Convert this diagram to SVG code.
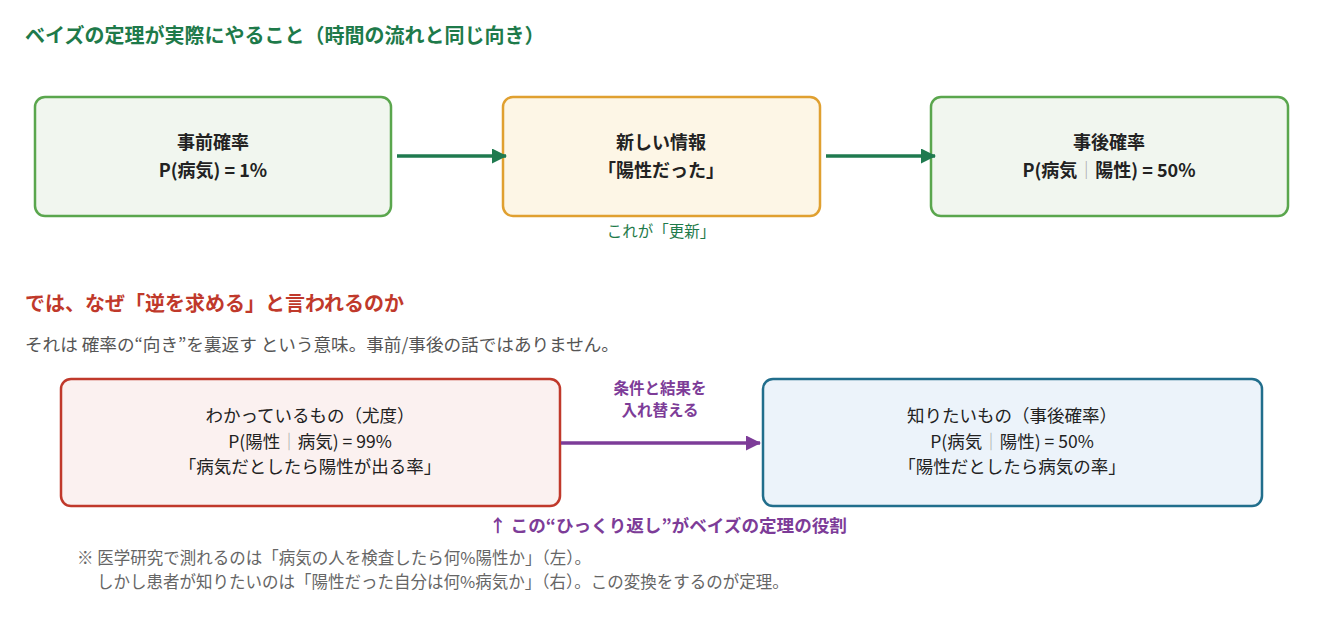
<svg xmlns="http://www.w3.org/2000/svg" width="1322" height="632" viewBox="0 0 1322 632">
<style>
text{font-family:"Noto Sans CJK JP","Noto Sans",sans-serif}
.h{font-size:20px;font-weight:700}
.b{font-size:18px;font-weight:700;fill:#222;text-anchor:middle}
.r{font-size:17.5px;fill:#222;text-anchor:middle}
.sep{fill:#aaa;font-weight:400}
.g{font-size:16.5px;fill:#666}
.p{fill:#7d3c98;font-weight:700;text-anchor:middle}
</style>
<defs>
<marker id="ag" markerWidth="15" markerHeight="15" refX="14" refY="7.5" orient="auto" markerUnits="userSpaceOnUse" viewBox="0 0 15 15"><path d="M0,0 L15,7.5 L0,15z" fill="#1f7a4f"/></marker>
<marker id="ap" markerWidth="15" markerHeight="15" refX="14" refY="7.5" orient="auto" markerUnits="userSpaceOnUse" viewBox="0 0 15 15"><path d="M0,0 L15,7.5 L0,15z" fill="#7d3c98"/></marker>
</defs>
<rect width="1322" height="632" fill="#fff"/>
<text x="25" y="43" class="h" fill="#1e7a4a">ベイズの定理が実際にやること（時間の流れと同じ向き）</text>
<g id="prior"><rect x="35" y="97" width="356" height="119" rx="10" fill="#f1f6ef" stroke="#5aa64d" stroke-width="2.5"/>
<text x="213" y="149" class="b">事前確率</text><text x="213" y="177" class="b">P(病気) = 1%</text></g>
<g id="info"><rect x="503" y="97" width="317" height="119" rx="10" fill="#fdf6e6" stroke="#e0a030" stroke-width="2.5"/>
<text x="661" y="149" class="b">新しい情報</text><text x="661" y="177" class="b">「陽性だった」</text></g>
<g id="post"><rect x="931" y="97" width="357" height="119" rx="10" fill="#f1f6ef" stroke="#5aa64d" stroke-width="2.5"/>
<text x="1109" y="149" class="b">事後確率</text><text x="1109" y="177" class="b">P(病気<tspan class="sep">｜</tspan>陽性) = 50%</text></g>
<text x="661" y="237" font-size="15.5" fill="#1e7a4a" text-anchor="middle">これが「更新」</text>
<text x="25" y="311" class="h" fill="#c0392b">では、なぜ「逆を求める」と言われるのか</text>
<text x="25" y="351" font-size="17.6" fill="#555">それは 確率の“向き”を裏返す という意味。事前/事後の話ではありません。</text>
<g id="known"><rect x="61" y="379" width="499" height="127" rx="10" fill="#fbf1f0" stroke="#c0392b" stroke-width="2.5"/>
<text x="310" y="422" class="r">わかっているもの（尤度）</text><text x="310" y="448" class="r">P(陽性<tspan class="sep">｜</tspan>病気) = 99%</text><text x="310" y="473" class="r">「病気だとしたら陽性が出る率」</text></g>
<g id="want"><rect x="763" y="379" width="499" height="127" rx="10" fill="#ecf3fa" stroke="#216e8c" stroke-width="2.5"/>
<text x="1012" y="422" class="r">知りたいもの（事後確率）</text><text x="1012" y="448" class="r">P(病気<tspan class="sep">｜</tspan>陽性) = 50%</text><text x="1012" y="473" class="r">「陽性だとしたら病気の率」</text></g>
<g id="connectors" fill="none">
<line x1="397" y1="156" x2="506" y2="156" stroke="#1f7a4f" stroke-width="3.5" marker-end="url(#ag)"/>
<line x1="826" y1="156" x2="935" y2="156" stroke="#1f7a4f" stroke-width="3.5" marker-end="url(#ag)"/>
<line x1="561" y1="443" x2="760" y2="443" stroke="#7d3c98" stroke-width="3.5" marker-end="url(#ap)"/>
</g>
<text x="660" y="394" font-size="15.5" class="p">条件と結果を</text>
<text x="660" y="416" font-size="15.5" class="p">入れ替える</text>
<text x="668" y="532" font-size="17.6" class="p">↑ この“ひっくり返し”がベイズの定理の役割</text>
<text x="77" y="564" class="g">※ 医学研究で測れるのは「病気の人を検査したら何%陽性か」（左）。</text>
<text x="97" y="588" class="g">しかし患者が知りたいのは「陽性だった自分は何%病気か」（右）。この変換をするのが定理。</text>
</svg>
